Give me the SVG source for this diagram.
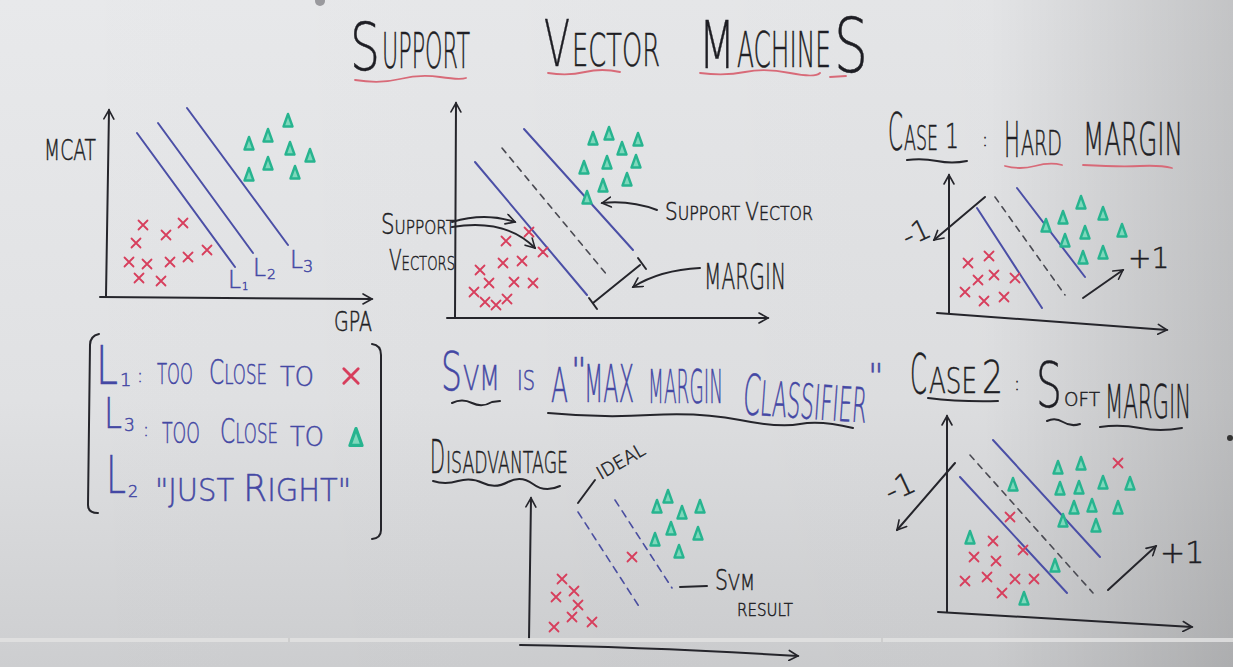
<svg xmlns="http://www.w3.org/2000/svg" width="1233" height="667" viewBox="0 0 1233 667">
<defs>
  <linearGradient id="bgv" x1="0" y1="0" x2="0" y2="1">
    <stop offset="0" stop-color="#e8e9eb"/>
    <stop offset="0.6" stop-color="#e0e1e3"/>
    <stop offset="1" stop-color="#cdced0"/>
  </linearGradient>
  <linearGradient id="bgh" x1="0" y1="0" x2="1" y2="0">
    <stop offset="0" stop-color="#000" stop-opacity="0"/>
    <stop offset="0.8" stop-color="#000" stop-opacity="0.02"/>
    <stop offset="1" stop-color="#000" stop-opacity="0.16"/>
  </linearGradient>
  <marker id="ah" viewBox="0 0 12 12" refX="10" refY="6" markerWidth="12" markerHeight="12" markerUnits="userSpaceOnUse" orient="auto">
    <path d="M1,1 L10,6 L1,11" fill="none" stroke="#25252b" stroke-width="1.6" stroke-linecap="round"/>
  </marker>
  <path id="x" d="M-4.5,-4.5 L4.5,4.5 M4.5,-4.5 L-4.5,4.5" class="rx"/>
  <path id="t" d="M0,-7 L4.5,5.5 L-4.5,5.5 Z" class="gt"/>
  <style>
    .k{fill:none;stroke:#25252b;stroke-width:2;stroke-linecap:round;stroke-linejoin:round}
    .kd{fill:none;stroke:#4a4a52;stroke-width:1.6;stroke-dasharray:6 6;stroke-linecap:round}
    .bd{fill:none;stroke:#4a4ea0;stroke-width:1.6;stroke-dasharray:7 6;stroke-linecap:round}
    .b{fill:none;stroke:#4b4fa6;stroke-width:2;stroke-linecap:round}
    .rw{fill:none;stroke:#d86a78;stroke-width:1.8;stroke-linecap:round}
    .rx{fill:none;stroke:#d73e5c;stroke-width:1.8;stroke-linecap:round}
    .gt{fill:#7fd8bc;stroke:#27b48f;stroke-width:2.4;stroke-linejoin:round}
    text{font-family:"DejaVu Sans","Liberation Sans",sans-serif;font-weight:200}
    .tk{fill:#1e1e24;stroke:#1e1e24;stroke-width:0.5}
    .tb{fill:#4448a4;stroke:#4448a4;stroke-width:0.5}
  </style>
</defs>

<!-- background -->
<rect width="1233" height="667" fill="url(#bgv)"/>
<rect width="1233" height="667" fill="url(#bgh)"/>
<circle cx="320" cy="1" r="5" fill="#9a9a9e"/>
<circle cx="1230" cy="438" r="3" fill="#333"/>

<!-- title -->
<g id="title">
  <text class="tk" x="350" y="70" font-size="66" textLength="30" lengthAdjust="spacingAndGlyphs">S</text>
  <text class="tk" x="382" y="68" font-size="50" textLength="88" lengthAdjust="spacingAndGlyphs">UPPORT</text>
  <text class="tk" x="544" y="66" font-size="64" textLength="26" lengthAdjust="spacingAndGlyphs">V</text>
  <text class="tk" x="572" y="66" font-size="44" textLength="88" lengthAdjust="spacingAndGlyphs">ECTOR</text>
  <text class="tk" x="699" y="68" font-size="66" textLength="36" lengthAdjust="spacingAndGlyphs">M</text>
  <text class="tk" x="737" y="67" font-size="50" textLength="94" lengthAdjust="spacingAndGlyphs">ACHINE</text>
  <text class="tk" x="834" y="72" font-size="74" textLength="34" lengthAdjust="spacingAndGlyphs">S</text>
  <path class="rw" d="M355,80 Q380,84 400,79 T440,77 T466,78"/>
  <path class="rw" d="M548,73 Q568,76 585,72 T620,72"/>
  <path class="rw" d="M700,73 Q725,76 745,72 T790,73 T820,73"/>
  <path class="rw" d="M830,77 L846,76"/>
</g>

<!-- graph 1 -->
<g id="graph1">
  <path class="k" d="M106,296 L109,110" marker-end="url(#ah)"/>
  <path class="k" d="M100,297 L372,299" marker-end="url(#ah)"/>
  <text class="tk" x="44" y="160" font-size="28" textLength="52" lengthAdjust="spacingAndGlyphs">MCAT</text>
  <text class="tk" x="334" y="331" font-size="26" textLength="38" lengthAdjust="spacingAndGlyphs">GPA</text>
  <path class="b" d="M137,133 L235,267"/>
  <path class="b" d="M158,123 L253,253"/>
  <path class="b" d="M187,108 L288,245"/>
  <text class="tb" x="228" y="288" font-size="24" textLength="13" lengthAdjust="spacingAndGlyphs">L</text>
  <text class="tb" x="242" y="290" font-size="10">1</text>
  <text class="tb" x="253" y="276" font-size="24" textLength="13" lengthAdjust="spacingAndGlyphs">L</text>
  <text class="tb" x="267" y="279" font-size="14">2</text>
  <text class="tb" x="290" y="268" font-size="24" textLength="13" lengthAdjust="spacingAndGlyphs">L</text>
  <text class="tb" x="303" y="272" font-size="16">3</text>
  <use href="#x" x="143" y="225"/><use href="#x" x="183" y="223"/><use href="#x" x="166" y="235"/>
  <use href="#x" x="136" y="243"/><use href="#x" x="207" y="250"/><use href="#x" x="129" y="262"/>
  <use href="#x" x="147" y="264"/><use href="#x" x="170" y="262"/><use href="#x" x="188" y="257"/>
  <use href="#x" x="139" y="278"/><use href="#x" x="161" y="281"/>
  <use href="#t" x="288" y="121"/><use href="#t" x="249" y="144"/><use href="#t" x="268" y="136"/>
  <use href="#t" x="290" y="149"/><use href="#t" x="310" y="156"/><use href="#t" x="268" y="164"/>
  <use href="#t" x="249" y="175"/><use href="#t" x="295" y="173"/>
</g>

<!-- legend box -->
<g id="legend">
  <path class="k" d="M99,334 Q90,336 90,345 L88,505 Q88,513 98,513"/>
  <path class="k" d="M372,344 Q381,345 381,355 L381,530 Q381,538 372,539"/>
  <text class="tb" x="96" y="384" font-size="54" textLength="22" lengthAdjust="spacingAndGlyphs">L</text>
  <text class="tb" x="120" y="386" font-size="18">1</text>
  <text class="tb" x="137" y="382" font-size="18">:</text>
  <text class="tb" x="157" y="384" font-size="28" textLength="36" lengthAdjust="spacingAndGlyphs">TOO</text>
  <text class="tb" x="209" y="384" font-size="34" textLength="58" lengthAdjust="spacingAndGlyphs">C<tspan font-size="26">LOSE</tspan></text>
  <text class="tb" x="280" y="386" font-size="26" textLength="34" lengthAdjust="spacingAndGlyphs">TO</text>
  <use href="#x" x="351" y="376" transform="translate(351,376) scale(1.6) translate(-351,-376)"/>
  <text class="tb" x="104" y="428" font-size="42" textLength="18" lengthAdjust="spacingAndGlyphs">L</text>
  <text class="tb" x="124" y="431" font-size="17">3</text>
  <text class="tb" x="143" y="436" font-size="18">:</text>
  <text class="tb" x="162" y="443" font-size="28" textLength="38" lengthAdjust="spacingAndGlyphs">TOO</text>
  <text class="tb" x="220" y="443" font-size="34" textLength="58" lengthAdjust="spacingAndGlyphs">C<tspan font-size="26">LOSE</tspan></text>
  <text class="tb" x="290" y="446" font-size="26" textLength="34" lengthAdjust="spacingAndGlyphs">TO</text>
  <use href="#t" x="356" y="438" transform="translate(356,438) scale(1.35) translate(-356,-438)"/>
  <text class="tb" x="106" y="493" font-size="52" textLength="20" lengthAdjust="spacingAndGlyphs">L</text>
  <text class="tb" x="128" y="497" font-size="16">2</text>
  <text class="tb" x="155" y="501" font-size="32" textLength="196" lengthAdjust="spacingAndGlyphs">"JUST <tspan font-size="38">R</tspan>IGHT"</text>
</g>

<!-- graph 2 -->
<g id="graph2">
  <path class="k" d="M455,317 L456,103" marker-end="url(#ah)"/>
  <path class="k" d="M447,318 L768,318" marker-end="url(#ah)"/>
  <path class="b" d="M475,162 L587,295"/>
  <path class="kd" d="M502,148 L607,275"/>
  <path class="b" d="M524,129 L633,250"/>
  <path class="k" d="M593,303 L640,265"/>
  <path class="k" d="M589,298 L597,309"/>
  <path class="k" d="M638,258 L646,269"/>
  <use href="#x" x="529" y="232"/><use href="#x" x="506" y="241"/><use href="#x" x="543" y="252"/>
  <use href="#x" x="503" y="263"/><use href="#x" x="522" y="261"/><use href="#x" x="480" y="270"/>
  <use href="#x" x="489" y="283"/><use href="#x" x="514" y="282"/><use href="#x" x="533" y="283"/>
  <use href="#x" x="474" y="292"/><use href="#x" x="485" y="302"/><use href="#x" x="496" y="305"/>
  <use href="#x" x="507" y="299"/>
  <use href="#t" x="593" y="139"/><use href="#t" x="609" y="134"/><use href="#t" x="638" y="140"/>
  <use href="#t" x="622" y="149"/><use href="#t" x="584" y="168"/><use href="#t" x="607" y="163"/>
  <use href="#t" x="636" y="162"/><use href="#t" x="603" y="186"/><use href="#t" x="627" y="180"/>
  <use href="#t" x="587" y="198"/>
  <text class="tk" x="381" y="234" font-size="20" textLength="74" lengthAdjust="spacingAndGlyphs"><tspan font-size="28">S</tspan>UPPORT</text>
  <text class="tk" x="389" y="270" font-size="20" textLength="66" lengthAdjust="spacingAndGlyphs"><tspan font-size="28">V</tspan>ECTORS</text>
  <path class="k" d="M452,222 Q485,212 515,222" marker-end="url(#ah)"/>
  <path class="k" d="M452,227 Q505,218 535,248" marker-end="url(#ah)"/>
  <text class="tk" x="665" y="220" font-size="19" textLength="148" lengthAdjust="spacingAndGlyphs"><tspan font-size="24">S</tspan>UPPORT <tspan font-size="24">V</tspan>ECTOR</text>
  <path class="k" d="M657,210 Q630,200 602,203" marker-end="url(#ah)"/>
  <text class="tk" x="704" y="289" font-size="36" textLength="82" lengthAdjust="spacingAndGlyphs">MARGIN</text>
  <path class="k" d="M700,268 Q660,270 633,287" marker-end="url(#ah)"/>
</g>

<!-- case 1 -->
<g id="case1">
  <text class="tk" x="888" y="150" font-size="52" textLength="15" lengthAdjust="spacingAndGlyphs">C</text>
  <text class="tk" x="904" y="150" font-size="34" textLength="34" lengthAdjust="spacingAndGlyphs">ASE</text>
  <text class="tk" x="945" y="148" font-size="34" textLength="14" lengthAdjust="spacingAndGlyphs">1</text>
  <text class="tk" x="982" y="146" font-size="18">:</text>
  <text class="tk" x="1004" y="157" font-size="50" textLength="16" lengthAdjust="spacingAndGlyphs">H</text>
  <text class="tk" x="1021" y="155" font-size="34" textLength="41" lengthAdjust="spacingAndGlyphs">ARD</text>
  <text class="tk" x="1083" y="155" font-size="44" textLength="100" lengthAdjust="spacingAndGlyphs">MARGIN</text>
  <path class="k" d="M907,160 Q922,158 937,161 T967,161"/>
  <path class="rw" d="M1005,166 Q1020,170 1035,166 T1062,165"/>
  <path class="rw" d="M1083,165 Q1120,167 1140,166 T1172,168"/>
  <path class="k" d="M949,313 L949,175" marker-end="url(#ah)"/>
  <path class="k" d="M937,313 L1167,330" marker-end="url(#ah)"/>
  <path class="k" d="M985,197 L934,240" marker-end="url(#ah)"/>
  <text class="tk" x="903" y="243" font-size="28" transform="rotate(-25 915 235)">-1</text>
  <path class="b" d="M977,208 L1042,308"/>
  <path class="kd" d="M995,197 L1065,295"/>
  <path class="b" d="M1017,188 L1085,277"/>
  <path class="k" d="M1083,298 L1123,270" marker-end="url(#ah)"/>
  <text class="tk" x="1128" y="268" font-size="28">+1</text>
  <use href="#x" x="968" y="263"/><use href="#x" x="989" y="256"/><use href="#x" x="978" y="280"/>
  <use href="#x" x="994" y="275"/><use href="#x" x="1015" y="278"/><use href="#x" x="965" y="292"/>
  <use href="#x" x="984" y="301"/><use href="#x" x="1004" y="297"/>
  <use href="#t" x="1081" y="203"/><use href="#t" x="1063" y="218"/><use href="#t" x="1103" y="214"/>
  <use href="#t" x="1046" y="226"/><use href="#t" x="1085" y="233"/><use href="#t" x="1122" y="231"/>
  <use href="#t" x="1065" y="241"/><use href="#t" x="1103" y="253"/><use href="#t" x="1083" y="258"/>
</g>

<!-- headline -->
<g id="headline">
  <text class="tb" x="441" y="390" font-size="54" textLength="21" lengthAdjust="spacingAndGlyphs">S</text>
  <text class="tb" x="463" y="390" font-size="34" textLength="37" lengthAdjust="spacingAndGlyphs">VM</text>
  <text class="tb" x="517" y="390" font-size="26" textLength="18" lengthAdjust="spacingAndGlyphs">IS</text>
  <text class="tb" x="551" y="402" font-size="48" textLength="17" lengthAdjust="spacingAndGlyphs">A</text>
  <text class="tb" x="571" y="382" font-size="34">"</text>
  <text class="tb" x="584" y="402" font-size="52" textLength="50" lengthAdjust="spacingAndGlyphs">MAX</text>
  <text class="tb" x="648" y="403" font-size="46" textLength="75" lengthAdjust="spacingAndGlyphs">MARGIN</text>
  <text class="tb" x="742" y="414" font-size="48" textLength="124" lengthAdjust="spacingAndGlyphs" transform="rotate(4 742 414)"><tspan font-size="56">C</tspan>LASSIFIER</text>
  <text class="tb" x="868" y="388" font-size="34">"</text>
  <path class="k" d="M452,403 Q462,398 472,403 T492,402 L500,401"/>
  <path class="k" d="M548,413 Q600,418 650,415 T740,420 T800,424 T853,428"/>
</g>

<!-- disadvantage -->
<g id="disadvantage">
  <text class="tk" x="430" y="473" font-size="46" textLength="15" lengthAdjust="spacingAndGlyphs">D</text>
  <text class="tk" x="446" y="473" font-size="30" textLength="122" lengthAdjust="spacingAndGlyphs">ISADVANTAGE</text>
  <path class="k" d="M433,481 Q445,485 458,481 T483,483 T508,482 T533,484 T560,486"/>
  <path class="k" d="M529,639 L531,498" marker-end="url(#ah)"/>
  <path class="k" d="M520,645 Q650,647 798,656" marker-end="url(#ah)"/>
  <path class="k" d="M578,503 L595,480"/>
  <text class="tk" x="601" y="480" font-size="18" transform="rotate(-30 601 480)">IDEAL</text>
  <path class="bd" d="M578,512 L640,608"/>
  <path class="bd" d="M615,500 L672,588"/>
  <path class="k" d="M680,587 L707,586"/>
  <text class="tk" x="715" y="590" font-size="28" textLength="13" lengthAdjust="spacingAndGlyphs">S</text>
  <text class="tk" x="728" y="590" font-size="22" textLength="27" lengthAdjust="spacingAndGlyphs">VM</text>
  <text class="tk" x="737" y="616" font-size="18" textLength="56" lengthAdjust="spacingAndGlyphs">RESULT</text>
  <use href="#t" x="657" y="507"/><use href="#t" x="668" y="497"/><use href="#t" x="700" y="507"/>
  <use href="#t" x="682" y="513"/><use href="#t" x="671" y="529"/><use href="#t" x="698" y="534"/>
  <use href="#t" x="655" y="540"/><use href="#t" x="679" y="552"/>
  <use href="#x" x="632" y="557"/>
  <use href="#x" x="562" y="579"/><use href="#x" x="574" y="591"/><use href="#x" x="556" y="597"/>
  <use href="#x" x="578" y="605"/><use href="#x" x="572" y="617"/><use href="#x" x="592" y="622"/>
  <use href="#x" x="554" y="627"/>
</g>

<!-- case 2 -->
<g id="case2">
  <text class="tk" x="910" y="393" font-size="56" textLength="17" lengthAdjust="spacingAndGlyphs">C</text>
  <text class="tk" x="929" y="393" font-size="36" textLength="48" lengthAdjust="spacingAndGlyphs">ASE</text>
  <text class="tk" x="982" y="393" font-size="44" textLength="21" lengthAdjust="spacingAndGlyphs">2</text>
  <text class="tk" x="1014" y="390" font-size="18">:</text>
  <text class="tk" x="1036" y="407" font-size="62" textLength="26" lengthAdjust="spacingAndGlyphs">S</text>
  <text class="tk" x="1064" y="406" font-size="20" textLength="36" lengthAdjust="spacingAndGlyphs">OFT</text>
  <text class="tk" x="1105" y="418" font-size="46" textLength="86" lengthAdjust="spacingAndGlyphs">MARGIN</text>
  <path class="k" d="M928,398 Q960,402 998,401"/>
  <path class="k" d="M1047,421 Q1055,417 1063,422 T1080,424"/>
  <path class="k" d="M1100,427 Q1120,424 1140,428 T1182,428"/>
  <path class="k" d="M947,612 L947,416" marker-end="url(#ah)"/>
  <path class="k" d="M938,612 L1192,627" marker-end="url(#ah)"/>
  <path class="k" d="M955,463 L897,530" marker-end="url(#ah)"/>
  <text class="tk" x="884" y="497" font-size="30" transform="rotate(-25 900 485)">-1</text>
  <path class="b" d="M960,477 L1067,593"/>
  <path class="kd" d="M970,455 L1093,593"/>
  <path class="b" d="M993,440 L1100,557"/>
  <path class="k" d="M1108,590 L1156,546" marker-end="url(#ah)"/>
  <text class="tk" x="1160" y="563" font-size="30">+1</text>
  <use href="#t" x="1058" y="468"/><use href="#t" x="1081" y="464"/><use href="#t" x="1013" y="485"/>
  <use href="#t" x="1060" y="489"/><use href="#t" x="1079" y="488"/><use href="#t" x="1103" y="483"/>
  <use href="#t" x="1130" y="484"/><use href="#t" x="1074" y="508"/><use href="#t" x="1092" y="506"/>
  <use href="#t" x="1118" y="508"/><use href="#t" x="1063" y="521"/><use href="#t" x="1096" y="526"/>
  <use href="#t" x="970" y="538"/><use href="#t" x="1055" y="566"/><use href="#t" x="1024" y="599"/>
  <use href="#x" x="1118" y="463"/><use href="#x" x="1010" y="517"/><use href="#x" x="993" y="541"/>
  <use href="#x" x="1023" y="550"/><use href="#x" x="974" y="557"/><use href="#x" x="996" y="561"/>
  <use href="#x" x="965" y="581"/><use href="#x" x="987" y="577"/><use href="#x" x="1015" y="579"/>
  <use href="#x" x="1034" y="579"/><use href="#x" x="1002" y="593"/>
</g>

<!-- video bar -->
<rect x="0" y="638" width="1233" height="4" fill="#e2e2e2" opacity="0.85"/>
<path d="M289,638 V642 M882,638 V642" stroke="#bdbdbd" stroke-width="1"/>
</svg>
